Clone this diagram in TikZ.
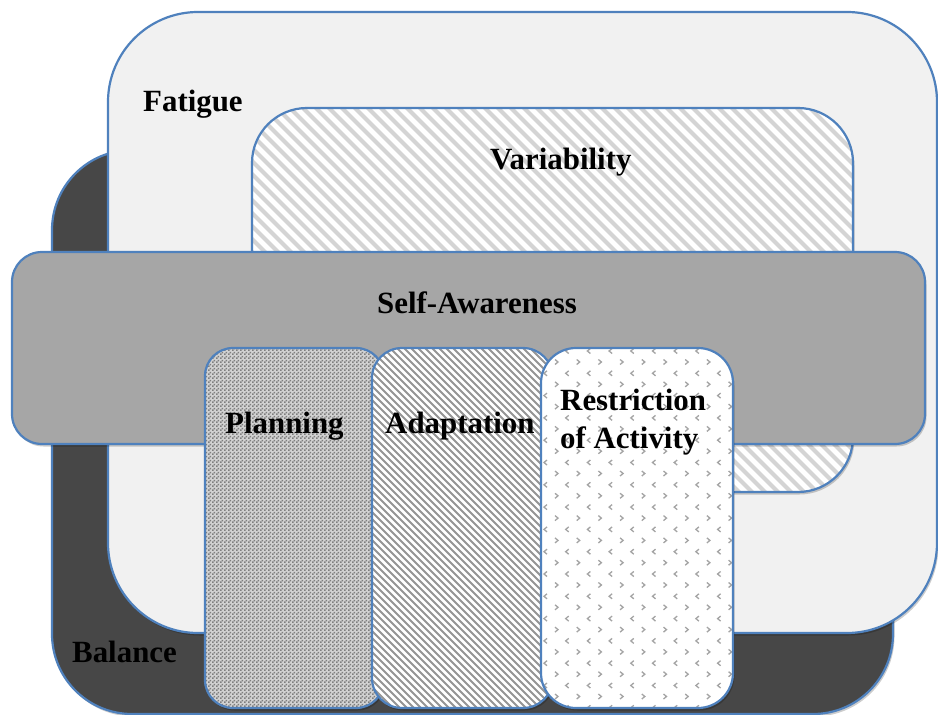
\documentclass[tikz,border=0pt]{standalone}
\usepackage{fontspec}
\setmainfont{Liberation Serif}
\usetikzlibrary{patterns.meta}
\definecolor{bord}{HTML}{4F81BD}
\definecolor{balfill}{HTML}{474747}
\definecolor{fatfill}{HTML}{F1F1F1}
\definecolor{selffill}{HTML}{A6A6A6}
\definecolor{varline}{HTML}{D4D4D4}
\definecolor{adline}{HTML}{959595}
\definecolor{chevcol}{HTML}{A4A4A4}
\definecolor{planbg}{HTML}{D2D2D2}
\definecolor{planfg}{HTML}{7E7E7E}
\tikzdeclarepattern{
  name=checker,
  type=uncolored,
  bounding box={(0bp,0bp) and (4bp,4bp)},
  tile size={(4bp,4bp)},
  code={
    \fill (0bp,0bp) rectangle (2bp,2bp);
    \fill (2bp,2bp) rectangle (4bp,4bp);
  }
}
\begin{document}
\begin{tikzpicture}[x=1bp,y=-1bp,
  lab/.style={font=\fontsize{31}{37}\selectfont\bfseries, inner sep=0pt},
  box/.style={draw=bord, line width=2.2bp},
  shad/.style={fill=black, opacity=0.2, transform canvas={xshift=1.5bp,yshift=-2.5bp}},
  chev/.style={draw=chevcol, line width=1.3bp}]
\useasboundingbox (0,0) rectangle (938,715);
% Balance
\fill[shad, rounded corners=80bp] (52,150) rectangle (893,714);
\draw[box, fill=balfill, rounded corners=80bp] (52,150) rectangle (893,714);
% Fatigue
\fill[shad, rounded corners=90bp] (108,12) rectangle (937,633);
\draw[box, fill=fatfill, rounded corners=90bp] (108,12) rectangle (937,633);
% Variability
\fill[shad, rounded corners=55bp] (252,108) rectangle (853,492);
\begin{scope}
  \clip[rounded corners=55bp] (252,108) rectangle (853,492);
  \fill[white] (252,108) rectangle (853,492);
  \foreach \a in {-160,-147,...,860} \draw[varline, line width=4bp] (\a,100) -- ++(400,400);
\end{scope}
\draw[box, rounded corners=55bp] (252,108) rectangle (853,492);
% Self-Awareness
\fill[shad, rounded corners=30bp] (12,252) rectangle (925,444);
\draw[box, fill=selffill, rounded corners=30bp] (12,252) rectangle (925,444);
% Planning
\fill[shad, rounded corners=28bp] (205,348) rectangle (384,708);
\fill[planbg, rounded corners=28bp] (205,348) rectangle (384,708);
\fill[pattern=checker, pattern color=planfg, rounded corners=28bp] (205,348) rectangle (384,708);
\draw[box, rounded corners=28bp] (205,348) rectangle (384,708);
% Adaptation
\fill[shad, rounded corners=30bp] (372,348) rectangle (553,708);
\begin{scope}
  \clip[rounded corners=30bp] (372,348) rectangle (553,708);
  \fill[white] (372,348) rectangle (553,708);
  \foreach \a in {-10,-3,...,560} \draw[adline, line width=1.8bp] (\a,340) -- ++(380,380);
\end{scope}
\draw[box, rounded corners=30bp] (372,348) rectangle (553,708);
% Restriction of Activity
\fill[shad, rounded corners=35bp] (541,348) rectangle (733,708);
\begin{scope}
  \clip[rounded corners=35bp] (541,348) rectangle (733,708);
  \fill[white] (541,348) rectangle (733,708);
  \foreach \i [evaluate=\i as \x using 545+21.7*\i] in {0,...,9} {
    \foreach \j [evaluate=\j as \y using 351+22.3*\j] in {0,...,16} {
      \draw[chev] (\x+2,\y-2.5) -- (\x-1,\y) -- (\x+2,\y+2.5);
      \draw[chev] (\x+10,\y+8.5) -- (\x+13,\y+11) -- (\x+10,\y+13.5);
    }
  }
\end{scope}
\draw[box, rounded corners=35bp] (541,348) rectangle (733,708);
% Labels
\node[lab, anchor=base west] (fat) at (143,112) {Fatigue};
\node[lab, anchor=base west] (var) at (490,170) {Variability};
\node[lab, anchor=base west] (self) at (377,313) {Self-Awareness};
\node[lab, anchor=base west] (plan) at (225,433) {Planning};
\node[lab, anchor=base west] (adap) at (385,433) {Adaptation};
\node[lab, anchor=base west] (res1) at (560,410) {Restriction};
\node[lab, anchor=base west] (res2) at (560,448) {of Activity};
\node[lab, anchor=base west] (bal) at (72,662) {Balance};
\end{tikzpicture}
\end{document}
